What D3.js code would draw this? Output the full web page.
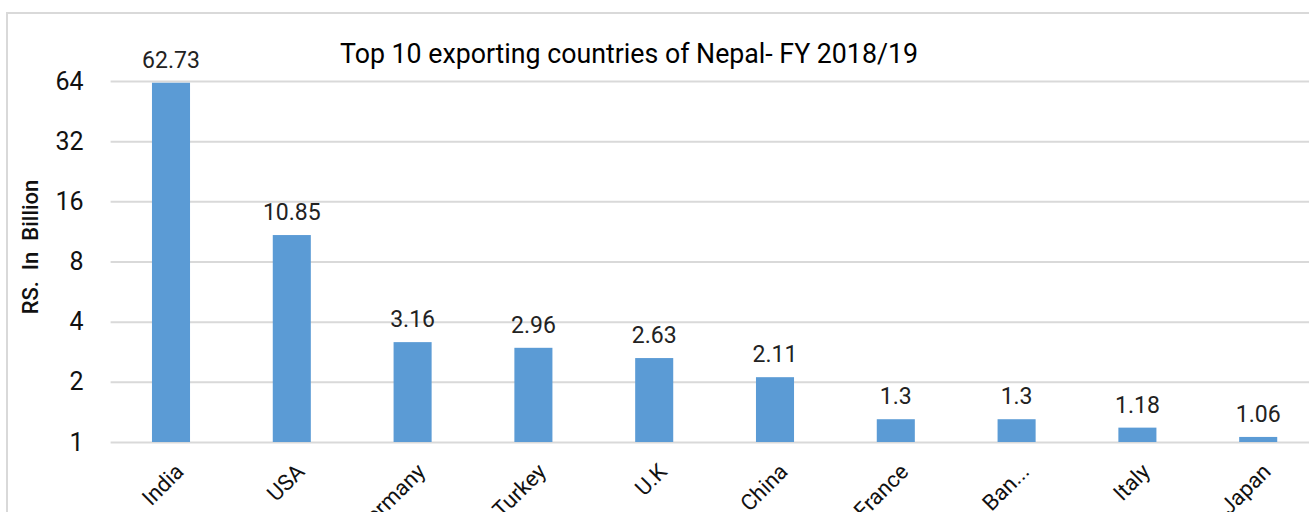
<!DOCTYPE html>
<html>
<head>
<meta charset="utf-8">
<script src="https://cdn.jsdelivr.net/npm/d3@7"></script>
<style>
  html, body { margin: 0; padding: 0; background: #fff; }
  svg { display: block; font-family: Roboto, "Noto Sans", sans-serif; }
</style>
</head>
<body>
<svg id="chart" width="1309" height="512"></svg>
<script>
// Top 10 export destinations, FY 2018/19 (RS. in billion)
const countries = ["India", "USA", "Germany", "Turkey", "U.K", "China", "France", "Ban...", "Italy", "Japan"];
const exportValues = [62.73, 10.85, 3.16, 2.96, 2.63, 2.11, 1.3, 1.3, 1.18, 1.06];
const yTicks = [1, 2, 4, 8, 16, 32, 64];
const chartTitle = "Top 10 exporting countries of Nepal- FY 2018/19";
const yAxisTitle = "RS.  In  Billion";

const svg = d3.select("#chart");
const gridColor = "#d9d9d9";
const barColor = "#5b9bd5";

// outer frame of the chart area
svg.append("rect")
  .attr("x", 7).attr("y", 13)
  .attr("width", 1400).attr("height", 600)
  .attr("fill", "none")
  .attr("stroke", gridColor)
  .attr("stroke-width", 2);

const plotLeft = 110.6, plotRight = 1318.6, plotTop = 81, plotBottom = 442;

const x = d3.scaleBand()
  .domain(countries)
  .range([plotLeft, plotRight])
  .paddingInner(0.685)
  .paddingOuter(0.3425);

const y = d3.scaleLog()
  .base(2)
  .domain([1, 64])
  .range([plotBottom, plotTop]);

// horizontal gridlines + tick labels
const yAxis = d3.axisLeft(y)
  .tickValues(yTicks)
  .tickFormat(d3.format("d"))
  .tickSize(-(1309 - plotLeft))
  .tickPadding(27);

const gy = svg.append("g")
  .attr("transform", `translate(${plotLeft},0)`)
  .call(yAxis);
gy.select(".domain").remove();
gy.selectAll(".tick line")
  .attr("stroke", gridColor)
  .attr("stroke-width", 2);
gy.selectAll(".tick text")
  .attr("fill", "#111")
  .attr("font-size", 25)
  .attr("font-family", "Roboto, sans-serif");

// bars
svg.append("g")
  .selectAll("rect")
  .data(countries)
  .join("rect")
  .attr("x", d => x(d))
  .attr("width", x.bandwidth())
  .attr("y", (d, i) => y(exportValues[i]))
  .attr("height", (d, i) => plotBottom - y(exportValues[i]))
  .attr("fill", barColor);

// value labels above bars
svg.append("g")
  .selectAll("text")
  .data(countries)
  .join("text")
  .attr("x", d => x(d) + x.bandwidth() / 2)
  .attr("y", (d, i) => y(exportValues[i]) - 15)
  .attr("text-anchor", "middle")
  .attr("font-size", 23)
  .attr("fill", "#222")
  .text((d, i) => exportValues[i]);

// rotated category labels
svg.append("g")
  .selectAll("text")
  .data(countries)
  .join("text")
  .attr("transform", d => `translate(${x(d) + x.bandwidth() / 2 + 14},${plotBottom + 31}) rotate(-45)`)
  .attr("text-anchor", "end")
  .attr("font-size", 22)
  .attr("fill", "#111")
  .text(d => d);

// chart title
svg.append("text")
  .attr("x", 340)
  .attr("y", 63)
  .attr("font-size", 27)
  .attr("textLength", 578)
  .attr("lengthAdjust", "spacingAndGlyphs")
  .attr("fill", "#000")
  .text(chartTitle);

// y-axis title
svg.append("text")
  .attr("transform", "translate(38,247) rotate(-90)")
  .attr("text-anchor", "middle")
  .attr("font-size", 22)
  .attr("font-weight", 500)
  .attr("fill", "#111")
  .style("white-space", "pre")
  .text(yAxisTitle);
</script>
</body>
</html>
